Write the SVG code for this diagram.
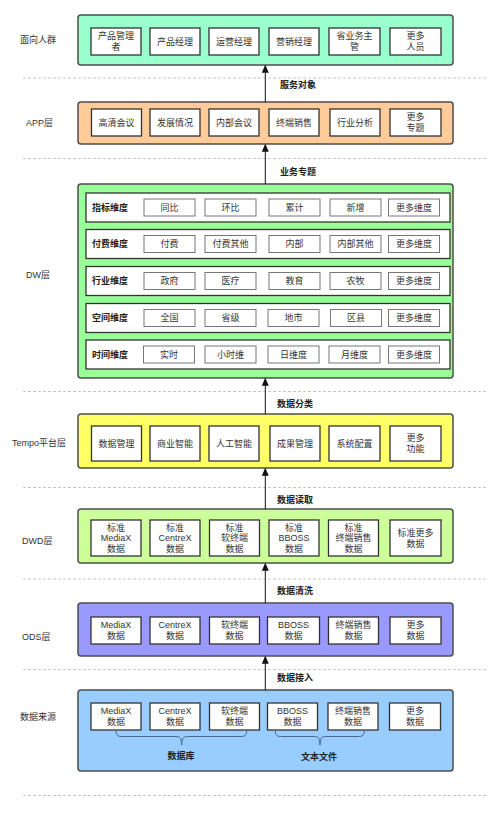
<svg xmlns="http://www.w3.org/2000/svg" width="500" height="814" viewBox="0 0 500 814">
<defs>
<marker id="ah" markerWidth="8" markerHeight="8" refX="7" refY="4" orient="auto" markerUnits="userSpaceOnUse">
<path d="M0,0.5 L8,4 L0,7.5 Z" fill="#111"/>
</marker>
<style>
text{font-family:"Liberation Sans","Noto Sans CJK SC",sans-serif;font-size:9px;fill:#333;}
.c{text-anchor:middle;dominant-baseline:central;}
.l{dominant-baseline:central;}
.b{font-weight:bold;fill:#222;}
.ct{stroke:#4d4d4d;stroke-width:1.5;}
.bx{fill:#fff;stroke:#333;stroke-width:1.3;}
.row{fill:#fff;stroke:#333;stroke-width:1.3;}
.sb{fill:#fff;stroke:#777;stroke-width:1;}
.dash{stroke:#c8c8c8;stroke-width:1;stroke-dasharray:3,2;fill:none;}
.ar{stroke:#111;stroke-width:1;fill:none;marker-end:url(#ah);}
.br{stroke:#4a6a8a;stroke-width:1;fill:none;}
</style>
</defs>

<g id="separators">
<line class="dash" x1="23" y1="78" x2="487" y2="78"/>
<line class="dash" x1="23" y1="158.5" x2="487" y2="158.5"/>
<line class="dash" x1="23" y1="391.5" x2="487" y2="391.5"/>
<line class="dash" x1="23" y1="487.5" x2="487" y2="487.5"/>
<line class="dash" x1="23" y1="579" x2="487" y2="579"/>
<line class="dash" x1="23" y1="669.5" x2="487" y2="669.5"/>
<line class="dash" x1="23" y1="795.5" x2="487" y2="795.5"/>
</g>

<g id="layer-labels">
<text class="l" x="20" y="40">面向人群</text>
<text class="l" x="26" y="123">APP层</text>
<text class="l" x="26" y="275">DW层</text>
<text class="l" x="12" y="443">Tempo平台层</text>
<text class="l" x="22" y="541">DWD层</text>
<text class="l" x="22" y="637">ODS层</text>
<text class="l" x="20" y="717">数据来源</text>
</g>

<g id="audience">
<rect class="ct" x="78" y="15" width="375" height="50" rx="3" fill="#99FFCC"/>
<rect class="bx" x="91" y="28" width="50" height="27"/><text class="c"><tspan x="116" y="36">产品管理</tspan><tspan x="116" y="47">者</tspan></text>
<rect class="bx" x="150" y="28" width="50" height="27"/><text class="c" x="175" y="41.5">产品经理</text>
<rect class="bx" x="209" y="28" width="50" height="27"/><text class="c" x="234" y="41.5">运营经理</text>
<rect class="bx" x="269" y="28" width="50" height="27"/><text class="c" x="294" y="41.5">营销经理</text>
<rect class="bx" x="329" y="28" width="51" height="27"/><text class="c"><tspan x="354.5" y="36">省业务主</tspan><tspan x="354.5" y="47">管</tspan></text>
<rect class="bx" x="390" y="28" width="51" height="27"/><text class="c"><tspan x="415.5" y="36">更多</tspan><tspan x="415.5" y="47">人员</tspan></text>
</g>

<g id="app">
<rect class="ct" x="78" y="102" width="375" height="42" rx="3" fill="#FFCC99"/>
<rect class="bx" x="91.5" y="109" width="50" height="27"/><text class="c" x="116.5" y="122.5">高清会议</text>
<rect class="bx" x="150" y="109" width="50" height="27"/><text class="c" x="175" y="122.5">发展情况</text>
<rect class="bx" x="209" y="109" width="50" height="27"/><text class="c" x="234" y="122.5">内部会议</text>
<rect class="bx" x="269" y="109" width="50" height="27"/><text class="c" x="294" y="122.5">终端销售</text>
<rect class="bx" x="330" y="109" width="50" height="27"/><text class="c" x="355" y="122.5">行业分析</text>
<rect class="bx" x="390" y="109" width="51" height="27"/><text class="c"><tspan x="415.5" y="117">更多</tspan><tspan x="415.5" y="128">专题</tspan></text>
</g>

<g id="dw">
<rect class="ct" x="78" y="184" width="375" height="194" rx="3" fill="#99FF99"/>
<g id="dw-row1">
<rect class="row" x="86" y="193" width="364" height="29"/>
<text class="l b" x="92" y="207.5">指标维度</text>
<rect class="sb" x="144" y="199" width="51" height="17"/><text class="c" x="169.5" y="207.5">同比</text>
<rect class="sb" x="205" y="199" width="51" height="17"/><text class="c" x="230.5" y="207.5">环比</text>
<rect class="sb" x="269" y="199" width="51" height="17"/><text class="c" x="294.5" y="207.5">累计</text>
<rect class="sb" x="330" y="199" width="51" height="17"/><text class="c" x="355.5" y="207.5">新增</text>
<rect class="sb" x="388.5" y="199" width="51" height="17"/><text class="c" x="414" y="207.5">更多维度</text>
</g>
<g id="dw-row2">
<rect class="row" x="86" y="229.5" width="364" height="29"/>
<text class="l b" x="92" y="244">付费维度</text>
<rect class="sb" x="144" y="235.5" width="51" height="17"/><text class="c" x="169.5" y="244">付费</text>
<rect class="sb" x="205" y="235.5" width="51" height="17"/><text class="c" x="230.5" y="244">付费其他</text>
<rect class="sb" x="269" y="235.5" width="51" height="17"/><text class="c" x="294.5" y="244">内部</text>
<rect class="sb" x="330" y="235.5" width="51" height="17"/><text class="c" x="355.5" y="244">内部其他</text>
<rect class="sb" x="388.5" y="235.5" width="51" height="17"/><text class="c" x="414" y="244">更多维度</text>
</g>
<g id="dw-row3">
<rect class="row" x="86" y="266.5" width="364" height="29"/>
<text class="l b" x="92" y="281">行业维度</text>
<rect class="sb" x="144" y="272.5" width="51" height="17"/><text class="c" x="169.5" y="281">政府</text>
<rect class="sb" x="205" y="272.5" width="51" height="17"/><text class="c" x="230.5" y="281">医疗</text>
<rect class="sb" x="269" y="272.5" width="51" height="17"/><text class="c" x="294.5" y="281">教育</text>
<rect class="sb" x="330" y="272.5" width="51" height="17"/><text class="c" x="355.5" y="281">农牧</text>
<rect class="sb" x="388.5" y="272.5" width="51" height="17"/><text class="c" x="414" y="281">更多维度</text>
</g>
<g id="dw-row4">
<rect class="row" x="86" y="303.5" width="364" height="29"/>
<text class="l b" x="92" y="318">空间维度</text>
<rect class="sb" x="144" y="309.5" width="51" height="17"/><text class="c" x="169.5" y="318">全国</text>
<rect class="sb" x="205" y="309.5" width="51" height="17"/><text class="c" x="230.5" y="318">省级</text>
<rect class="sb" x="268" y="309.5" width="51" height="17"/><text class="c" x="293.5" y="318">地市</text>
<rect class="sb" x="330.5" y="309.5" width="51" height="17"/><text class="c" x="356" y="318">区县</text>
<rect class="sb" x="388.5" y="309.5" width="51" height="17"/><text class="c" x="414" y="318">更多维度</text>
</g>
<g id="dw-row5">
<rect class="row" x="86" y="340" width="364" height="29"/>
<text class="l b" x="92" y="354.5">时间维度</text>
<rect class="sb" x="143.5" y="346" width="51" height="17"/><text class="c" x="169" y="354.5">实时</text>
<rect class="sb" x="205" y="346" width="51" height="17"/><text class="c" x="230.5" y="354.5">小时维</text>
<rect class="sb" x="268" y="346" width="51" height="17"/><text class="c" x="293.5" y="354.5">日维度</text>
<rect class="sb" x="329" y="346" width="51" height="17"/><text class="c" x="354.5" y="354.5">月维度</text>
<rect class="sb" x="388.5" y="346" width="51" height="17"/><text class="c" x="414" y="354.5">更多维度</text>
</g>
</g>

<g id="tempo">
<rect class="ct" x="78" y="414" width="375" height="54" rx="3" fill="#FFFF66"/>
<rect class="bx" x="91.5" y="426" width="50" height="35"/><text class="c" x="116.5" y="443.5">数据管理</text>
<rect class="bx" x="150" y="426" width="50" height="35"/><text class="c" x="175" y="443.5">商业智能</text>
<rect class="bx" x="209" y="426" width="50" height="35"/><text class="c" x="234" y="443.5">人工智能</text>
<rect class="bx" x="270" y="426" width="50" height="35"/><text class="c" x="295" y="443.5">成果管理</text>
<rect class="bx" x="329" y="426" width="51" height="35"/><text class="c" x="354.5" y="443.5">系统配置</text>
<rect class="bx" x="390" y="426" width="51" height="35"/><text class="c"><tspan x="415.5" y="438">更多</tspan><tspan x="415.5" y="449">功能</tspan></text>
</g>

<g id="dwd">
<rect class="ct" x="78" y="509" width="375" height="54" rx="3" fill="#CCFF99"/>
<rect class="bx" x="91" y="520" width="50" height="36"/><text class="c"><tspan x="116" y="527.5">标准</tspan><tspan x="116" y="538">MediaX</tspan><tspan x="116" y="548.5">数据</tspan></text>
<rect class="bx" x="150" y="520" width="50" height="36"/><text class="c"><tspan x="175" y="527.5">标准</tspan><tspan x="175" y="538">CentreX</tspan><tspan x="175" y="548.5">数据</tspan></text>
<rect class="bx" x="209.5" y="520" width="50" height="36"/><text class="c"><tspan x="234.5" y="527.5">标准</tspan><tspan x="234.5" y="538">软终端</tspan><tspan x="234.5" y="548.5">数据</tspan></text>
<rect class="bx" x="269" y="520" width="50" height="36"/><text class="c"><tspan x="294" y="527.5">标准</tspan><tspan x="294" y="538">BBOSS</tspan><tspan x="294" y="548.5">数据</tspan></text>
<rect class="bx" x="328.5" y="520" width="50" height="36"/><text class="c"><tspan x="353.5" y="527.5">标准</tspan><tspan x="353.5" y="538">终端销售</tspan><tspan x="353.5" y="548.5">数据</tspan></text>
<rect class="bx" x="390" y="520" width="51" height="36"/><text class="c"><tspan x="415.5" y="532.5">标准更多</tspan><tspan x="415.5" y="543.5">数据</tspan></text>
</g>

<g id="ods">
<rect class="ct" x="78" y="603" width="375" height="53" rx="3" fill="#9999FF"/>
<rect class="bx" x="91" y="617" width="50" height="27"/><text class="c"><tspan x="116" y="625">MediaX</tspan><tspan x="116" y="636">数据</tspan></text>
<rect class="bx" x="150" y="617" width="50" height="27"/><text class="c"><tspan x="175" y="625">CentreX</tspan><tspan x="175" y="636">数据</tspan></text>
<rect class="bx" x="209.5" y="617" width="50" height="27"/><text class="c"><tspan x="234.5" y="625">软终端</tspan><tspan x="234.5" y="636">数据</tspan></text>
<rect class="bx" x="267.5" y="617" width="52" height="27"/><text class="c"><tspan x="293.5" y="625">BBOSS</tspan><tspan x="293.5" y="636">数据</tspan></text>
<rect class="bx" x="328.5" y="617" width="50" height="27"/><text class="c"><tspan x="353.5" y="625">终端销售</tspan><tspan x="353.5" y="636">数据</tspan></text>
<rect class="bx" x="390" y="617" width="51" height="27"/><text class="c"><tspan x="415.5" y="625">更多</tspan><tspan x="415.5" y="636">数据</tspan></text>
</g>

<g id="source">
<rect class="ct" x="78" y="690" width="375" height="81" rx="3" fill="#99CCFF"/>
<rect class="bx" x="91" y="703" width="50" height="27"/><text class="c"><tspan x="116" y="711">MediaX</tspan><tspan x="116" y="722">数据</tspan></text>
<rect class="bx" x="150" y="703" width="50" height="27"/><text class="c"><tspan x="175" y="711">CentreX</tspan><tspan x="175" y="722">数据</tspan></text>
<rect class="bx" x="209.5" y="703" width="50" height="27"/><text class="c"><tspan x="234.5" y="711">软终端</tspan><tspan x="234.5" y="722">数据</tspan></text>
<rect class="bx" x="267.5" y="703" width="50" height="27"/><text class="c"><tspan x="292.5" y="711">BBOSS</tspan><tspan x="292.5" y="722">数据</tspan></text>
<rect class="bx" x="328" y="703" width="50" height="27"/><text class="c"><tspan x="353" y="711">终端销售</tspan><tspan x="353" y="722">数据</tspan></text>
<rect class="bx" x="389.5" y="703" width="51" height="27"/><text class="c"><tspan x="415" y="711">更多</tspan><tspan x="415" y="722">数据</tspan></text>
<path class="br" d="M116,731 Q116,736.5 121,736.5 L177,736.5 Q181.7,736.5 181.7,745 Q181.7,736.5 186.5,736.5 L242,736.5 Q246.7,736.5 246.7,731"/>
<path class="br" d="M275.3,731 Q275.3,736.5 280.3,736.5 L315.5,736.5 Q320,736.5 320,745 Q320,736.5 324.5,736.5 L359.3,736.5 Q364.3,736.5 364.3,731"/>
<text class="c b" x="181" y="756">数据库</text>
<text class="c b" x="319" y="756.5">文本文件</text>
</g>

<g id="connectors">
<line class="ar" x1="265.3" y1="102" x2="265.3" y2="65.8"/>
<line class="ar" x1="265.3" y1="184" x2="265.3" y2="144.8"/>
<line class="ar" x1="265.3" y1="414" x2="265.3" y2="378.8"/>
<line class="ar" x1="265.3" y1="509" x2="265.3" y2="468.8"/>
<line class="ar" x1="265.3" y1="603" x2="265.3" y2="563.8"/>
<line class="ar" x1="265.3" y1="690" x2="265.3" y2="656.8"/>
<text class="l b" x="280" y="85">服务对象</text>
<text class="l b" x="280" y="172">业务专题</text>
<text class="l b" x="277" y="404">数据分类</text>
<text class="l b" x="277" y="500">数据读取</text>
<text class="l b" x="277" y="591">数据清洗</text>
<text class="l b" x="277" y="678">数据接入</text>
</g>
</svg>
